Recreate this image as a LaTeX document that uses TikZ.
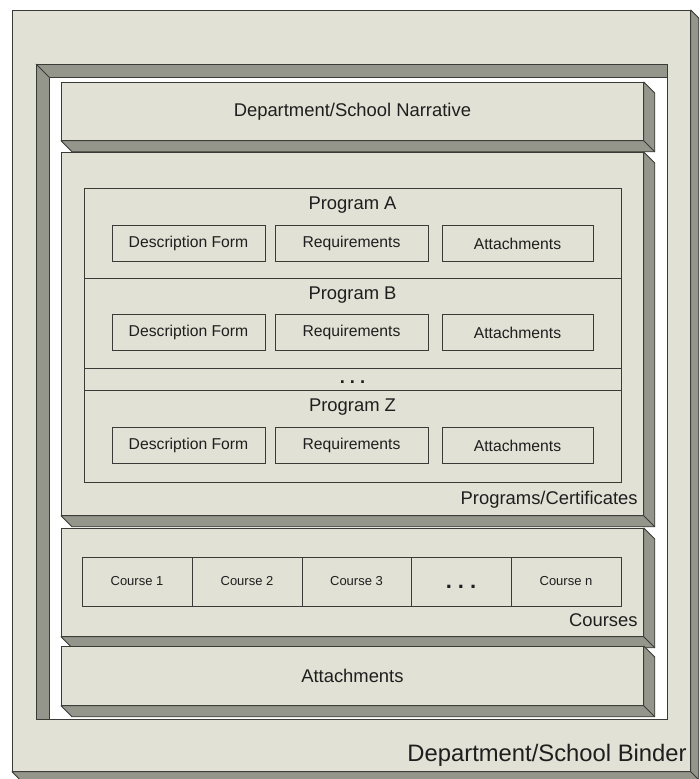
\documentclass[tikz,border=0pt]{standalone}
\usepackage{fontspec}
\setmainfont{Liberation Sans}
\usetikzlibrary{calc,positioning}
\definecolor{facefill}{HTML}{E1E2D5}
\definecolor{sidefill}{HTML}{95968B}
\definecolor{edge}{HTML}{3A3B36}
\definecolor{ink}{HTML}{1E1E1E}
\tikzset{
    face/.style = {
        draw = edge,
        fill = facefill,
        line width = 0.8pt,
        },
    side/.style = {
        draw = edge,
        fill = sidefill,
        line width = 0.8pt,
        line join = round,
        },
    slab/.style = {
        face,
        anchor = north west,
        inner sep = 0pt,
        text = ink,
        font = \fontsize{18.4}{22}\selectfont,
        },
    part/.style = {
        face,
        minimum width = 153pt,
        minimum height = 36pt,
        inner sep = 0pt,
        outer sep = 0pt,
        text = ink,
        font = \fontsize{15.7}{18}\selectfont,
        },
    course/.style = {
        part,
        minimum width = 110pt,
        minimum height = 49pt,
        font = \fontsize{13}{16}\selectfont,
        },
    row/.style = {
        face,
        anchor = north west,
        minimum width = 537pt,
        inner sep = 0pt,
        },
    title/.style = {
        text = ink,
        inner sep = 0pt,
        font = \fontsize{18.4}{22}\selectfont,
        },
}
% raised sides of a slab, depth #2
\newcommand{\drawsides}[2]{%
    \filldraw[side] (#1.north east) -- ++(#2,-#2) -- ($(#1.south east)+(#2,-#2)$)
        -- ($(#1.south west)+(#2,-#2)$) -- (#1.south west) -- (#1.south east) -- cycle;
    \draw[side] (#1.south east) -- ++(#2,-#2);}

\begin{document}
\begin{tikzpicture}[x=1pt, y=-1pt]
    \useasboundingbox (0,0) rectangle (700,779);

    % binder
    \node[slab, minimum width=678pt, minimum height=761pt] (binder) at (12,10) {};
    \drawsides{binder}{8pt}
    \node[title, font=\fontsize{23.8}{28}\selectfont, anchor=base east] (bindername)
        at ([shift={(-4pt,10pt)}]binder.south east) {Department/School Binder};

    % recessed frame
    \node[draw=edge, fill=white, line width=0.8pt, anchor=north west,
        minimum width=631pt, minimum height=655pt, inner sep=0pt] (frame) at (36,64) {};
    \filldraw[side] (frame.north west) -- (frame.north east) -- ++(0pt,-13pt)
        -- ($(frame.north west)+(13pt,-13pt)$) -- ($(frame.south west)+(13pt,0pt)$)
        -- (frame.south west) -- cycle;
    \draw[side] (frame.north west) -- ++(13pt,-13pt);

    % narrative
    \node[slab, minimum width=582pt, minimum height=58pt] (narrative) at (61,82) {Department/School Narrative};
    \drawsides{narrative}{11pt}

    % programs
    \node[slab, minimum width=582pt, minimum height=363pt] (programs) at (61,152) {};
    \drawsides{programs}{11pt}
    \node[title, anchor=base east] (programslabel)
        at ([shift={(-6pt,11pt)}]programs.south east) {Programs/Certificates};

    \node[row, minimum height=90pt] (rowA) at (84,188) {};
    \node[row, minimum height=90pt] (rowB) at (84,278) {};
    \node[row, minimum height=22pt] (rowdots) at (84,368) {};
    \node[row, minimum height=92pt] (rowZ) at (84,390) {};

    \node[title] (titleA) at (352.5,205) {Program A};
    \node[part] (descA) at (188.5,243.5) {Description Form};
    \node[part, right=10pt of descA] (reqA) {Requirements};
    \node[part, minimum width=151pt, right=14pt of reqA] (attA) {Attachments};

    \node[title] (titleB) at (352.5,295) {Program B};
    \node[part] (descB) at (188.5,332.5) {Description Form};
    \node[part, right=10pt of descB] (reqB) {Requirements};
    \node[part, minimum width=151pt, right=14pt of reqB] (attB) {Attachments};

    \node[title] (dotsrow) at (352.5,382.5) {\textbf{.\hspace{5pt}.\hspace{5pt}.}};

    \node[title] (titleZ) at (352.5,407) {Program Z};
    \node[part] (descZ) at (188.5,445.5) {Description Form};
    \node[part, right=10pt of descZ] (reqZ) {Requirements};
    \node[part, minimum width=151pt, right=14pt of reqZ] (attZ) {Attachments};

    % courses
    \node[slab, minimum width=582pt, minimum height=108pt] (courses) at (61,528) {};
    \drawsides{courses}{11pt}
    \node[title, anchor=base east] (courseslabel)
        at ([shift={(-6pt,10pt)}]courses.south east) {Courses};

    \node[course] (course1) at (137,581.5) {Course 1};
    \node[course, right=0pt of course1] (course2) {Course 2};
    \node[course, minimum width=109pt, right=0pt of course2] (course3) {Course 3};
    \node[course, minimum width=100pt, right=0pt of course3] (coursedots) {};
    \node[course, right=0pt of coursedots] (coursen) {Course n};
    \node[title, font=\fontsize{22}{26}\selectfont] (dotscourse)
        at ([yshift=-5pt]coursedots.center) {\textbf{.\hspace{6pt}.\hspace{6pt}.}};

    % attachments
    \node[slab, minimum width=582pt, minimum height=59pt] (attachments) at (61,646) {Attachments};
    \drawsides{attachments}{11pt}
\end{tikzpicture}
\end{document}
